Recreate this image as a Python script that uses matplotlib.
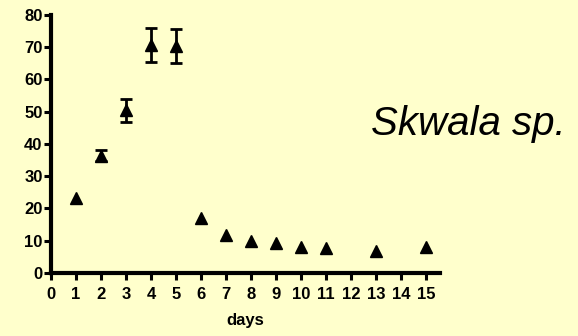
import numpy as np
import matplotlib
matplotlib.use('Agg')
import matplotlib.pyplot as plt

plt.rcParams['font.family'] = ['Liberation Sans', 'DejaVu Sans']

# data
days = [1, 2, 3, 4, 5, 6, 7, 8, 9, 10, 11, 13, 15]
means = [23.3, 36.4, 50.4, 70.6, 70.4, 17.0, 11.9, 9.9, 9.3, 8.0, 7.9, 6.7, 8.0]
errs = [0.0, 1.8, 3.6, 5.2, 5.3, 0.0, 0.0, 0.0, 0.0, 0.0, 0.0, 0.0, 0.0]
xticks = list(range(16))
yticks = [0, 10, 20, 30, 40, 50, 60, 70, 80]

bg = '#FFFFCC'
fig = plt.figure(figsize=(5.78, 3.36), dpi=100, facecolor=bg)
ax = fig.add_axes([0.088, 0.1875, 0.673, 0.768])
ax.set_facecolor(bg)

d = np.array(days)
m = np.array(means)
e = np.array(errs)
has_err = e > 0
ax.errorbar(d[has_err], m[has_err], yerr=e[has_err], fmt='none', ecolor='black',
            elinewidth=2, capsize=4, capthick=2, clip_on=False)
ax.plot(d, m, '^', color='black', ms=9, clip_on=False)

ax.set_xlim(0, 15.55)
ax.set_ylim(0, 80)
ax.set_xticks(xticks)
ax.set_yticks(yticks)
ax.tick_params(width=2.2, length=5, labelsize=12)
ax.tick_params(axis='x', pad=5)
ax.tick_params(axis='y', pad=1)
for lab in ax.get_xticklabels() + ax.get_yticklabels():
    lab.set_fontweight('bold')
for s in ['top', 'right']:
    ax.spines[s].set_visible(False)
for s in ['left', 'bottom']:
    ax.spines[s].set_linewidth(3)
ax.set_xlabel('days', fontsize=12, fontweight='bold', labelpad=8)

fig.text(0.642, 0.598, 'Skwala sp.', fontsize=29, fontstyle='italic',
         ha='left', va='baseline')

fig.savefig('out.png', dpi=100, facecolor=bg)
